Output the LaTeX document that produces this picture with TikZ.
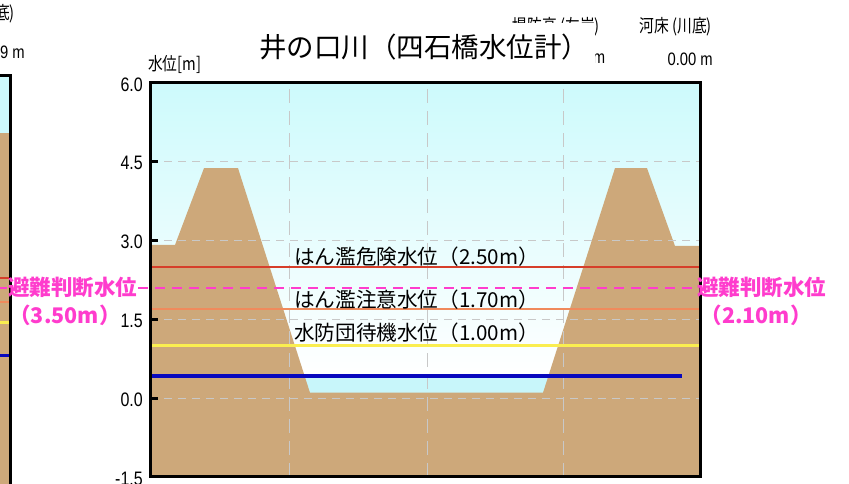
\documentclass[tikz,border=0pt]{standalone}
\usepackage{graphicx}
\usepackage{fontspec}
\setmainfont{Noto Sans CJK JP}
\newfontfamily\numfont{Liberation Sans}
\usetikzlibrary{calc}
\definecolor{sky}{RGB}{205,250,252}
\definecolor{water}{RGB}{200,246,250}
\definecolor{soil}{RGB}{205,168,122}
\definecolor{gridgray}{RGB}{200,200,200}
\definecolor{dangerred}{RGB}{214,62,42}
\definecolor{warnorange}{RGB}{240,138,92}
\definecolor{standby}{RGB}{250,238,80}
\definecolor{nowblue}{RGB}{8,8,190}
\definecolor{evac}{RGB}{255,60,205}
\newcommand{\nar}[1]{\scalebox{0.82}[1]{#1}}

\begin{document}
\begin{tikzpicture}[x=1pt,y=-1pt,
  gridline/.style={draw=gridgray,line width=1pt,dash pattern=on 8pt off 6pt},
  evacline/.style={draw=evac,line width=2pt,dash pattern=on 10pt off 7pt},
  lbl/.style={anchor=west,inner sep=1pt,font=\fontsize{20.6}{21}\selectfont},
  pinklbl/.style={text=evac,inner sep=1pt,font=\fontsize{21.5}{22}\selectfont\bfseries},
  small/.style={inner sep=0pt,font=\fontsize{18}{18}\selectfont},
  numtxt/.style={inner sep=0pt,font=\numfont\fontsize{18}{18}\selectfont},
  ticklbl/.style={anchor=east,inner sep=0pt,font=\numfont\fontsize{19.5}{20}\selectfont}]
\useasboundingbox (0,0) rectangle (849,484);
\clip (0,0) rectangle (849,484);
\fill[white] (0,0) rectangle (849,484);

\fill[sky] (-20,76) rectangle (10,133);
\fill[soil] (-20,133) rectangle (10,490);
\draw[line width=2pt,dangerred] (-20,278) -- (10,278);
\draw[line width=2pt,warnorange] (-20,302) -- (10,302);
\draw[line width=3pt,standby] (-20,322) -- (10,322);
\draw[line width=3pt,nowblue] (-20,355) -- (10,355);
\draw[line width=3pt] (-20,76) -- (10,76) -- (10,490);
\node[small,anchor=east] (lbed) at (15,14) {\nar{底)}};
\node[numtxt,anchor=east] (lbedv) at (25,52) {\nar{9 m}};

\node[small,anchor=east] (bank) at (600,27) {\nar{堤防高 (左岸)}};
\node[small,anchor=east] (bed) at (712,27) {\nar{河床 (川底)}};
\node[numtxt,anchor=east] (bedv) at (713,59) {\nar{0.00 m}};
\node[numtxt] (bankv) at (599,59) {\nar{m}};
\fill[white] (240,23) rectangle (595,78);
\node (title) at (424,47) {\fontsize{27.5}{28}\selectfont 井の口川（四石橋水位計）};
\node[small,anchor=west] (unit) at (148,64) {\nar{水位[m]}};

\begin{scope}[shift={(0,398)},y=52.6pt]
\coordinate (SW) at (150,-1.5);
\coordinate (NE) at (700,6);
\shade[top color=sky,bottom color=white] (150,6) rectangle (700,0.42);
\fill[water] (150,0.42) rectangle (700,-1.5);
\fill[soil] (150,2.91) -- (175,2.91) -- (204,4.37) -- (238,4.37) -- (310,0.1) -- (543,0.1)
  -- (615,4.37) -- (647,4.37) -- (675,2.89) -- (700,2.89) |- (SW) -- cycle;
\foreach \v in {0,1.5,3,4.5}
  \draw[gridline] (150,\v) -- (700,\v);
\foreach \x in {289,427,563}
  \draw[gridline,dash pattern=on 14pt off 8pt] (\x,-1.5) -- (\x,6);

\draw[line width=2pt,dangerred] (150,2.5) -- (700,2.5);
\draw[line width=2pt,warnorange] (150,1.7) -- (700,1.7);
\draw[line width=3pt,standby] (150,1) -- (700,1);
\draw[line width=4pt,nowblue] (150,0.42) -- (682,0.42);

\node[lbl] (danger) at (293,2.68) {はん濫危険水位（2.50m）};
\node[lbl] (warn) at (293,1.86) {はん濫注意水位（1.70m）};
\node[lbl] (wait) at (293,1.24) {水防団待機水位（1.00m）};

\draw[line width=3pt] (SW) rectangle (NE);
\foreach \v/\s [count=\i] in {-1.5/-1.5,0/0.0,1.5/1.5,3/3.0,4.5/4.5,6/6.0} {
  \draw[line width=3pt] (150,\v) -- (158,\v);
  \node[ticklbl,yshift=-2pt] (tick\i) at (143,\v) {\nar{\s}};
}

\node[pinklbl,anchor=west] (evacL) at (7,2.1) {避難判断水位};
\node[pinklbl] (evacLv) at (65,1.58) {（3.50m）};
\node[pinklbl,anchor=west] (evacR) at (696,2.1) {避難判断水位};
\node[pinklbl] (evacRv) at (756,1.58) {（2.10m）};
\draw[evacline] (0,2.1) -- (evacL.west);
\draw[evacline] (evacL.east) -- (evacR.west);
\end{scope}
\end{tikzpicture}
\end{document}
